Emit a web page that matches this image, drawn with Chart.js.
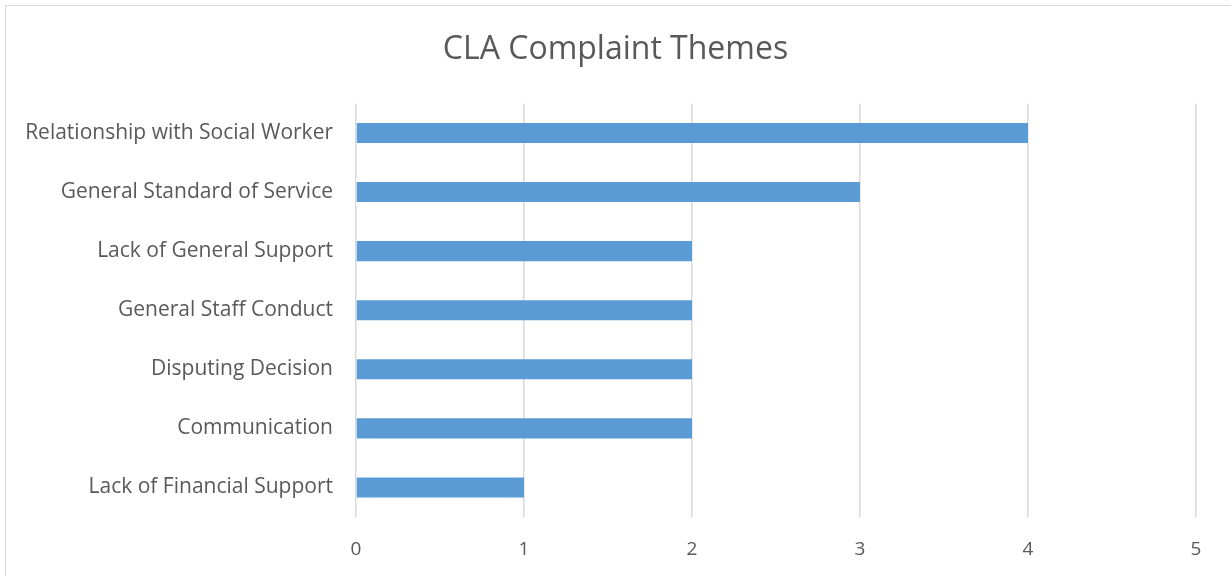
<!DOCTYPE html>
<html>
<head>
<meta charset="utf-8">
<script src="https://cdn.jsdelivr.net/npm/chart.js@4/dist/chart.umd.min.js"></script>
<style>
  html, body { margin: 0; padding: 0; background: #fff; overflow: hidden; }
  #wrap { position: relative; width: 1231px; height: 576px; }
  #frame { position: absolute; left: 5px; top: 5px; width: 1240px; height: 600px; border: 1px solid #d9d9d9; box-sizing: border-box; }
  canvas { position: absolute; left: 0; top: 0; }
</style>
</head>
<body>
<div id="wrap">
  <div id="frame"></div>
  <canvas id="chart" width="1231" height="576"></canvas>
</div>
<script>
// --- Data ---
const themes = [
  'Relationship with Social Worker',
  'General Standard of Service',
  'Lack of General Support',
  'General Staff Conduct',
  'Disputing Decision',
  'Communication',
  'Lack of Financial Support'
];
const counts = [4, 3, 2, 2, 2, 2, 1];
const xTicks = [0, 1, 2, 3, 4, 5];

const FONT = "'Open Sans', 'Liberation Sans', sans-serif";
const TEXT = '#595959';
const GRID = '#d9d9d9';

new Chart(document.getElementById('chart'), {
  type: 'bar',
  data: {
    labels: themes,
    datasets: [{
      label: 'Complaints',
      data: counts,
      backgroundColor: '#5b9bd5',
      borderWidth: 0,
      categoryPercentage: 1,
      barPercentage: 0.34
    }]
  },
  options: {
    indexAxis: 'y',
    responsive: false,
    animation: false,
    layout: { padding: 0 },
    plugins: {
      legend: { display: false },
      tooltip: { enabled: false },
      title: {
        display: true,
        text: 'CLA Complaint Themes',
        color: TEXT,
        font: { family: FONT, size: 32, weight: 'normal', lineHeight: 1.2 },
        padding: { top: 31, bottom: 34 }
      }
    },
    scales: {
      x: {
        min: xTicks[0],
        max: xTicks[xTicks.length - 1],
        afterBuildTicks: s => { s.ticks = xTicks.map(v => ({ value: v })); },
        afterFit: s => { s.height = 59; },
        grid: { color: GRID, lineWidth: 1.5, drawTicks: false },
        border: { display: false },
        ticks: { color: TEXT, padding: 21, font: { family: FONT, size: 19 } }
      },
      y: {
        afterFit: s => { s.width = 356; },
        grid: { display: false, drawTicks: false },
        border: { display: false },
        ticks: { color: TEXT, padding: 23, font: { family: FONT, size: 21 } }
      },
      // empty spacer on the right so the plot ends at the "5" gridline
      yRight: {
        type: 'linear',
        axis: 'y',
        position: 'right',
        afterFit: s => { s.width = 35; },
        grid: { display: false, drawTicks: false },
        border: { display: false },
        ticks: { display: false }
      }
    }
  }
});
</script>
</body>
</html>
